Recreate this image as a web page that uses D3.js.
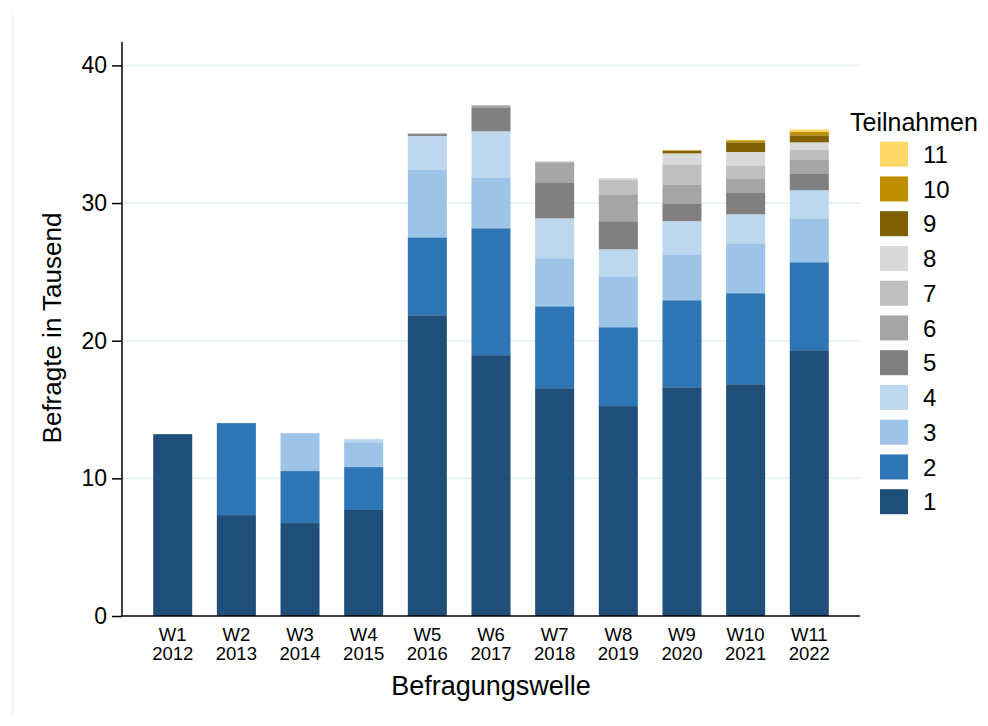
<!DOCTYPE html>
<html>
<head>
<meta charset="utf-8">
<script src="https://cdn.jsdelivr.net/npm/d3@7"></script>
<style>
  body { margin: 0; background: #fff; }
  svg { display: block; font-family: "Liberation Sans", Arial, sans-serif; }
</style>
</head>
<body>
<svg id="chart" width="988" height="726"></svg>
<script>
// waves and years on the x axis
var waves = ["W1", "W2", "W3", "W4", "W5", "W6", "W7", "W8", "W9", "W10", "W11"];
var years = ["2012", "2013", "2014", "2015", "2016", "2017", "2018", "2019", "2020", "2021", "2022"];

// number of participations (Teilnahmen), bottom to top
var teilnahmen = ["1", "2", "3", "4", "5", "6", "7", "8", "9", "10", "11"];
var colors = ["#1f4e79", "#2e75b6", "#9dc3e6", "#bdd7ee", "#808080", "#a5a5a5", "#bfbfbf", "#d9d9d9", "#7f6000", "#bf8f00", "#ffd966"];

// respondents in thousands, one array per participation count
var t1  = [13.21, 7.33, 6.75, 7.70, 21.85, 18.95, 16.55, 15.25, 16.62, 16.84, 19.31];
var t2  = [0, 6.68, 3.78, 3.12, 5.66, 9.22, 5.95, 5.73, 6.32, 6.61, 6.39];
var t3  = [0, 0, 2.75, 1.81, 4.94, 3.70, 3.49, 3.70, 3.34, 3.63, 3.19];
var t4  = [0, 0, 0, 0.22, 2.42, 3.34, 2.90, 1.96, 2.40, 2.10, 2.04];
var t5  = [0, 0, 0, 0, 0.14, 1.74, 2.62, 2.04, 1.30, 1.60, 1.23];
var t6  = [0, 0, 0, 0, 0.05, 0.15, 1.40, 1.96, 1.38, 1.02, 1.02];
var t7  = [0, 0, 0, 0, 0, 0, 0.12, 1.03, 1.45, 0.94, 0.72];
var t8  = [0, 0, 0, 0, 0, 0, 0, 0.15, 0.80, 0.97, 0.51];
var t9  = [0, 0, 0, 0, 0, 0, 0, 0, 0.17, 0.70, 0.51];
var t10 = [0, 0, 0, 0, 0, 0, 0, 0, 0.05, 0.15, 0.24];
var t11 = [0, 0, 0, 0, 0, 0, 0, 0, 0, 0.03, 0.19];

var yTicks = [0, 10, 20, 30, 40];

var series = [t1, t2, t3, t4, t5, t6, t7, t8, t9, t10, t11];

// build rows for d3.stack
var rows = waves.map(function(w, i){
	var row = {wave: w};
	teilnahmen.forEach(function(k, j){ row[k] = series[j][i]; });
	return row;
});

var svg = d3.select("#chart");

// plot area edges (not named top/left: window.top is read-only)
var plotLeft = 122, plotRight = 860, plotTop = 42, plotBottom = 616;

var x = d3.scaleBand().domain(waves).range([plotLeft, plotRight]).paddingInner(0.387).paddingOuter(0.49);
var y = d3.scaleLinear().domain([0, 41.7]).range([plotBottom, plotTop]);
var color = d3.scaleOrdinal().domain(teilnahmen).range(colors);

// faint frame line at the left edge
svg.append("line").attr("x1", 12.5).attr("x2", 12.5).attr("y1", 12).attr("y2", 714)
	.attr("stroke", "#e6eef1").attr("stroke-width", 1);

// grid lines
svg.append("g").selectAll("line").data(yTicks.filter(function(d){ return d > 0; }))
	.enter().append("line")
	.attr("x1", plotLeft).attr("x2", plotRight)
	.attr("y1", function(d){ return y(d); }).attr("y2", function(d){ return y(d); })
	.attr("stroke", "#eaf1f3").attr("stroke-width", 2);

// stacked bars
var stacked = d3.stack().keys(teilnahmen)(rows);
svg.append("g").selectAll("g").data(stacked).enter().append("g")
	.attr("fill", function(d){ return color(d.key); })
	.selectAll("rect").data(function(d){ return d; }).enter().append("rect")
	.attr("x", function(d){ return x(d.data.wave); })
	.attr("width", x.bandwidth())
	.attr("y", function(d){ return y(d[1]); })
	.attr("height", function(d){ return y(d[0]) - y(d[1]); });

// y axis
var yAxis = svg.append("g").attr("transform", "translate(" + plotLeft + ",0)")
	.call(d3.axisLeft(y).tickValues(yTicks).tickSize(10).tickPadding(5).tickFormat(d3.format("d")));
yAxis.select(".domain").attr("stroke", "#000").attr("stroke-width", 1.5).attr("d", "M0," + plotBottom + "V" + plotTop);
yAxis.selectAll(".tick line").attr("stroke", "#000").attr("stroke-width", 1.5);
yAxis.selectAll(".tick text").attr("font-size", "23px").attr("fill", "#000")
	.attr("font-family", "Liberation Sans, Arial, sans-serif");

// x axis line
svg.append("line").attr("x1", plotLeft - 0.75).attr("x2", plotRight).attr("y1", plotBottom).attr("y2", plotBottom)
	.attr("stroke", "#000").attr("stroke-width", 1.5);

// x tick labels: wave on the first line, year on the second
var xCenter = function(d){ return x(d) + x.bandwidth() / 2; };
svg.append("g").selectAll("text").data(waves).enter().append("text")
	.attr("x", xCenter).attr("y", 641)
	.attr("text-anchor", "middle").attr("font-size", "18.5px").attr("fill", "#000")
	.text(function(d){ return d; });
svg.append("g").selectAll("text").data(waves).enter().append("text")
	.attr("x", xCenter).attr("y", 660)
	.attr("text-anchor", "middle").attr("font-size", "18.5px").attr("fill", "#000")
	.text(function(d, i){ return years[i]; });

// axis titles
svg.append("text").attr("x", 491).attr("y", 695).attr("text-anchor", "middle")
	.attr("font-size", "27px").attr("fill", "#000").text("Befragungswelle");
svg.append("text").attr("transform", "translate(61,328) rotate(-90)").attr("text-anchor", "middle")
	.attr("font-size", "26px").attr("fill", "#000").text("Befragte in Tausend");

// legend, 11 on top down to 1
var legend = svg.append("g");
legend.append("text").attr("x", 850).attr("y", 131).attr("font-size", "25px").attr("fill", "#000").text("Teilnahmen");
var legendKeys = teilnahmen.slice().reverse();
var item = legend.selectAll("g.item").data(legendKeys).enter().append("g").attr("class", "item")
	.attr("transform", function(d, i){ return "translate(880," + (141.7 + i * 34.75) + ")"; });
item.append("rect").attr("width", 28).attr("height", 25).attr("fill", function(d){ return color(d); });
item.append("text").attr("x", 43).attr("y", 12.5).attr("dy", "0.36em").attr("font-size", "24px")
	.attr("fill", "#000").text(function(d){ return d; });
</script>
</body>
</html>
